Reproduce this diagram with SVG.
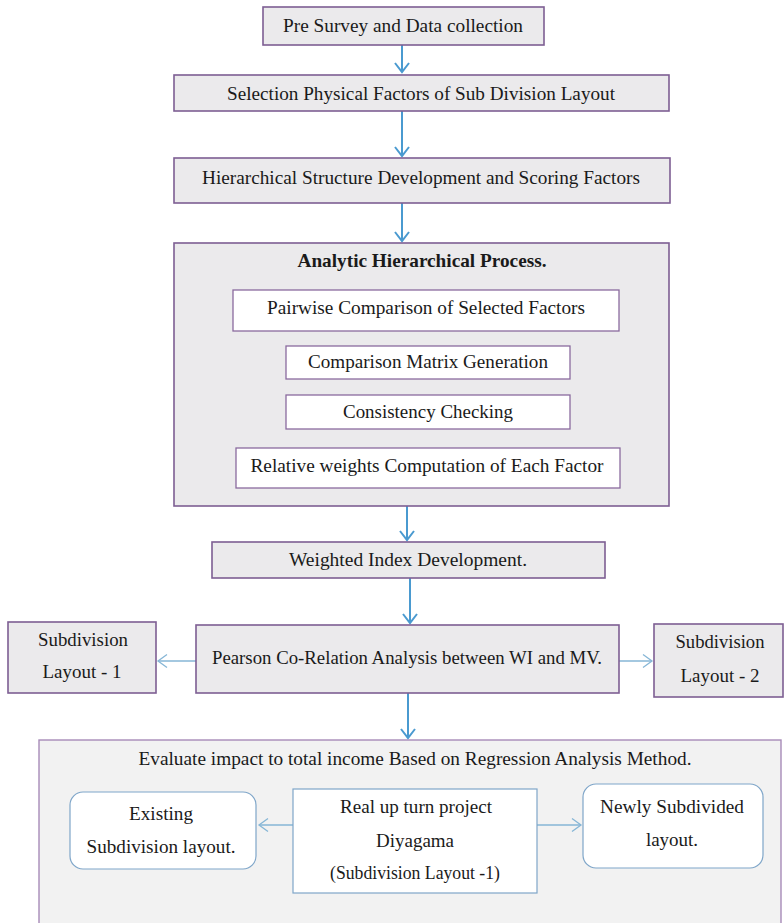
<svg xmlns="http://www.w3.org/2000/svg" width="784" height="923" viewBox="0 0 784 923" font-family="'Liberation Serif', 'DejaVu Serif', serif">
<defs>
<style>
text{font-size:19px;fill:#1a1a1a;text-anchor:middle}
.b{font-weight:bold}
.box{fill:#ebeaec;stroke:#7d5e93;stroke-width:1.6}
.wbox{fill:#ffffff;stroke:#8a6a9e;stroke-width:1.3}
.big{fill:#f2f2f2;stroke:#a78bb8;stroke-width:1.4}
.bbox{fill:#ffffff;stroke:#7fa6c9;stroke-width:1.2}
.main{stroke:#4a9ad0;stroke-width:2;fill:none}
.side{stroke:#86b6d6;stroke-width:1.3;fill:none}
</style>
<marker id="ah" markerUnits="userSpaceOnUse" markerWidth="20" markerHeight="20" viewBox="-12 -10 14 20" refX="0" refY="0" orient="auto">
<path d="M-9,-7 L0,0 L-9,7" fill="none" stroke="#4a9ad0" stroke-width="2"/>
</marker>
<marker id="as" markerUnits="userSpaceOnUse" markerWidth="20" markerHeight="20" viewBox="-12 -10 14 20" refX="0" refY="0" orient="auto">
<path d="M-9,-6.5 L0,0 L-9,6.5" fill="none" stroke="#86b6d6" stroke-width="1.3"/>
</marker>
</defs>
<rect width="784" height="923" fill="#ffffff"/>

<g id="connectors">
<line class="main" x1="402" y1="45" x2="402" y2="72" marker-end="url(#ah)"/>
<line class="main" x1="402" y1="111" x2="402" y2="156" marker-end="url(#ah)"/>
<line class="main" x1="402" y1="203" x2="402" y2="241" marker-end="url(#ah)"/>
<line class="main" x1="407" y1="506" x2="407" y2="540" marker-end="url(#ah)"/>
<line class="main" x1="410" y1="578" x2="410" y2="623" marker-end="url(#ah)"/>
<line class="main" x1="408" y1="693" x2="408" y2="738" marker-end="url(#ah)"/>
<line class="side" x1="196" y1="661" x2="158" y2="661" marker-end="url(#as)"/>
<line class="side" x1="619" y1="661" x2="652" y2="661" marker-end="url(#as)"/>
</g>

<g id="n1">
<rect class="box" x="263" y="7" width="281" height="38"/>
<text x="403" y="32" textLength="240" lengthAdjust="spacingAndGlyphs">Pre Survey and Data collection</text>
</g>
<g id="n2">
<rect class="box" x="174" y="75" width="495" height="36"/>
<text x="421" y="100" textLength="388" lengthAdjust="spacingAndGlyphs">Selection Physical Factors of Sub Division Layout</text>
</g>
<g id="n3">
<rect class="box" x="174" y="158" width="496" height="45"/>
<text x="421" y="184" textLength="438" lengthAdjust="spacingAndGlyphs">Hierarchical Structure Development and Scoring Factors</text>
</g>
<g id="ahp">
<rect class="box" x="174" y="243" width="495" height="263"/>
<text class="b" x="422" y="267" textLength="249" lengthAdjust="spacingAndGlyphs">Analytic Hierarchical Process.</text>
<g id="ahp1">
<rect class="wbox" x="233" y="290" width="386" height="41"/>
<text x="426" y="314" textLength="318" lengthAdjust="spacingAndGlyphs">Pairwise Comparison of Selected Factors</text>
</g>
<g id="ahp2">
<rect class="wbox" x="286" y="346" width="284" height="33"/>
<text x="428" y="368" textLength="240" lengthAdjust="spacingAndGlyphs">Comparison Matrix Generation</text>
</g>
<g id="ahp3">
<rect class="wbox" x="286" y="395" width="284" height="34"/>
<text x="428" y="418" textLength="170" lengthAdjust="spacingAndGlyphs">Consistency Checking</text>
</g>
<g id="ahp4">
<rect class="wbox" x="236" y="448" width="384" height="40"/>
<text x="427" y="472" textLength="353" lengthAdjust="spacingAndGlyphs">Relative weights Computation of Each Factor</text>
</g>
</g>
<g id="n5">
<rect class="box" x="212" y="542" width="393" height="36"/>
<text x="408" y="566" textLength="238" lengthAdjust="spacingAndGlyphs">Weighted Index Development.</text>
</g>
<g id="n6">
<rect class="box" x="196" y="625" width="423" height="68"/>
<text x="407" y="664" textLength="390" lengthAdjust="spacingAndGlyphs">Pearson Co-Relation Analysis between WI and MV.</text>
</g>
<g id="n7">
<rect class="box" x="8" y="622" width="148" height="71"/>
<text x="83" y="646" textLength="90" lengthAdjust="spacingAndGlyphs">Subdivision</text>
<text x="82" y="678" textLength="79" lengthAdjust="spacingAndGlyphs">Layout - 1</text>
</g>
<g id="n8">
<rect class="box" x="654" y="624" width="129" height="73"/>
<text x="720" y="648" textLength="89" lengthAdjust="spacingAndGlyphs">Subdivision</text>
<text x="720" y="682" textLength="79" lengthAdjust="spacingAndGlyphs">Layout - 2</text>
</g>
<g id="n9">
<rect class="big" x="39" y="740" width="742" height="195"/>
<text x="415" y="765" textLength="553" lengthAdjust="spacingAndGlyphs">Evaluate impact to total income Based on Regression Analysis Method.</text>
<g id="connectors-inner">
<line class="side" x1="293" y1="825" x2="259" y2="825" marker-end="url(#as)"/>
<line class="side" x1="537" y1="825" x2="581" y2="825" marker-end="url(#as)"/>
</g>
<g id="n10">
<rect class="bbox" x="70" y="792" width="186" height="77" rx="13"/>
<text x="161" y="820" textLength="64" lengthAdjust="spacingAndGlyphs">Existing</text>
<text x="161" y="853" textLength="149" lengthAdjust="spacingAndGlyphs">Subdivision layout.</text>
</g>
<g id="n11">
<rect class="bbox" x="293" y="789" width="244" height="104"/>
<text x="416" y="813" textLength="152" lengthAdjust="spacingAndGlyphs">Real up turn project</text>
<text x="415" y="847">Diyagama</text>
<text x="415" y="879" textLength="170" lengthAdjust="spacingAndGlyphs">(Subdivision Layout -1)</text>
</g>
<g id="n12">
<rect class="bbox" x="583" y="784" width="180" height="84" rx="13"/>
<text x="672" y="813" textLength="144" lengthAdjust="spacingAndGlyphs">Newly Subdivided</text>
<text x="672" y="846">layout.</text>
</g>
</g>
</svg>
